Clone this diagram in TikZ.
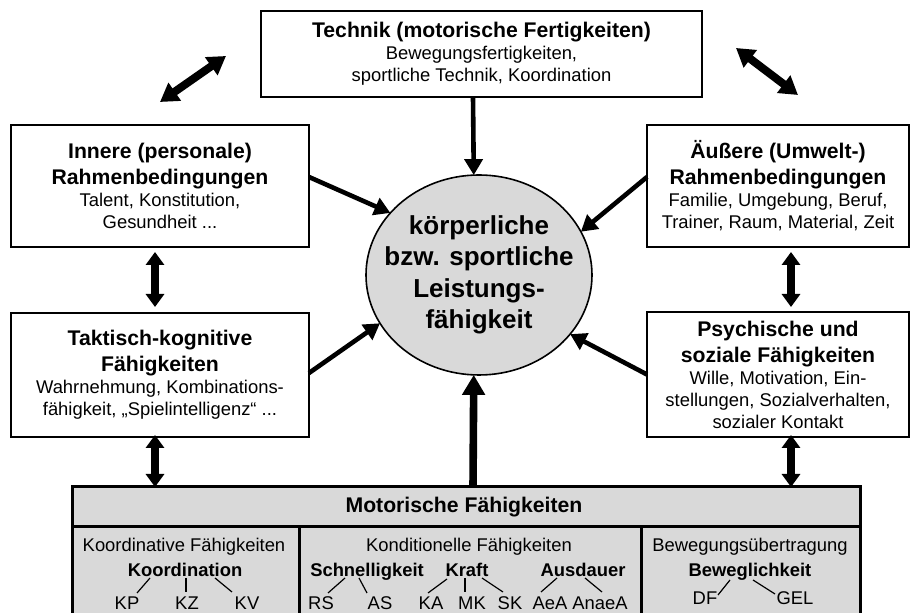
\documentclass[tikz,border=0pt]{standalone}
\usepackage{fontspec}
\setmainfont{Liberation Sans}
\usetikzlibrary{shapes.geometric,arrows.meta,calc}

\definecolor{panelgray}{RGB}{217,217,217}
\newcommand\hdfont{\fontsize{10.6}{13}\selectfont\bfseries}
\newcommand\bdfont{\fontsize{9.2}{11}\selectfont}
\newcommand\elfont{\fontsize{13}{15.75}\selectfont\bfseries}

\begin{document}
\begin{tikzpicture}[x=0.5pt,y=-0.5pt,
  box/.style={draw=black, line width=0.8pt, fill=white, inner sep=0pt,
    outer sep=0pt, align=center, font=\bdfont},
  arr/.style={line width=2.3pt, -{Triangle[length=8pt,width=9pt]}},
  bigarr/.style={line width=3.8pt, -{Triangle[length=10pt,width=11pt]}},
  dbl/.style={line width=4pt,
    {Triangle[length=6.5pt,width=9pt]}-{Triangle[length=6.5pt,width=9pt]}},
  ddiag/.style={line width=4pt,
    {Triangle[length=9pt,width=10.5pt]}-{Triangle[length=9pt,width=10.5pt]}},
  divider/.style={line width=1.5pt},
  lbl/.style={font=\bdfont, inner sep=0pt, anchor=base},
  blbl/.style={font=\bdfont\bfseries, inner sep=0pt, anchor=base},
  twig/.style={line width=0.6pt},
]
\useasboundingbox (0,0) rectangle (911,613);
\begin{scope}
\clip (0,0) rectangle (911,613);

% central ellipse
\node[draw, ellipse, fill=panelgray, line width=0.8pt, minimum width=113pt,
  minimum height=100pt, inner sep=0pt, outer sep=0pt] (perf) at (479,275) {};
\node[font=\elfont, align=center] (perftxt) at (perf.center)
  {körperliche\\bzw. sportliche\\Leistungs-\\fähigkeit};

% surrounding factor boxes
\node[box, minimum width=220.5pt, minimum height=43pt] (tech) at (481.5,54)
  {{\hdfont Technik (motorische Fertigkeiten)}\\Bewegungsfertigkeiten,\\
   sportliche Technik, Koordination};
\node[box, minimum width=149pt, minimum height=61pt] (inn) at (160,186)
  {{\hdfont Innere (personale)}\\[2pt]{\hdfont Rahmenbedingungen}\\
   Talent, Konstitution,\\Gesundheit ...};
\node[box, minimum width=131pt, minimum height=61pt] (aus) at (778,186)
  {{\hdfont Äußere (Umwelt-)}\\[2pt]{\hdfont Rahmenbedingungen}\\
   Familie, Umgebung, Beruf,\\Trainer, Raum, Material, Zeit};
\node[box, minimum width=149pt, minimum height=62pt] (takt) at (160,375)
  {{\hdfont Taktisch-kognitive}\\[2pt]{\hdfont Fähigkeiten}\\
   Wahrnehmung, Kombinations-\\fähigkeit, „Spielintelligenz“ ...};
\node[box, minimum width=131pt, minimum height=62.5pt] (psy) at (778,374.5)
  {{\hdfont Psychische und}\\[2pt]{\hdfont soziale Fähigkeiten}\\
   Wille, Motivation, Ein-\\stellungen, Sozialverhalten,\\sozialer Kontakt};

% motor abilities panel
\node[draw, fill=panelgray, line width=1.5pt, inner sep=0pt, outer sep=0pt,
  minimum width=394pt, minimum height=69pt] (mot) at (466,556) {};
\draw[divider] ($(mot.north west)+(0,40)$) -- ($(mot.north east)+(0,40)$);
\draw[divider] ($(mot.north west)+(227,40)$) -- ($(mot.south west)+(227,0)$);
\draw[divider] ($(mot.north west)+(569,40)$) -- ($(mot.south west)+(569,0)$);
\node[font=\hdfont, inner sep=0pt, anchor=base] (mothd) at (464,513)
  {Motorische Fähigkeiten};

\node[lbl] (koT) at (184,552) {Koordinative Fähigkeiten};
\node[lbl] (konT) at (469,552) {Konditionelle Fähigkeiten};
\node[lbl] (bewT) at (750,552) {Bewegungsübertragung};

\node[blbl] (koord) at (185,577) {Koordination};
\node[blbl] (schn) at (367,577) {Schnelligkeit};
\node[blbl] (kraft) at (467,577) {Kraft};
\node[blbl] (ausd) at (583,577) {Ausdauer};
\node[blbl] (bewg) at (750,577) {Beweglichkeit};

\node[lbl] (kp) at (127,610) {KP};
\node[lbl] (kz) at (187,610) {KZ};
\node[lbl] (kv) at (247,610) {KV};
\node[lbl] (rs) at (321,610) {RS};
\node[lbl] (as) at (380,610) {AS};
\node[lbl] (ka) at (431,610) {KA};
\node[lbl] (mk) at (472,610) {MK};
\node[lbl] (sk) at (510,610) {SK};
\node[lbl] (aea) at (550,610) {AeA};
\node[lbl] (anaea) at (600,610) {AnaeA};
\node[lbl] (df) at (705,605) {DF};
\node[lbl] (gel) at (795,605) {GEL};

% sub-ability branches
\draw[twig] ($(koord.base)+(-35,1)$) -- ($(kp.base)+(10,-17)$);
\draw[twig] ($(koord.base)+(1,1)$) -- ($(kz.base)+(-1,-18)$);
\draw[twig] ($(koord.base)+(30,1)$) -- ($(kv.base)+(-15,-18)$);
\draw[twig] ($(schn.base)+(-22,1)$) -- ($(rs.base)+(7,-17)$);
\draw[twig] ($(schn.base)+(-8,1)$) -- ($(as.base)+(-13,-17)$);
\draw[twig] ($(kraft.base)+(-20,2)$) -- ($(ka.base)+(-3,-17)$);
\draw[twig] ($(kraft.base)+(-2,1)$) -- ($(mk.base)+(-7,-18)$);
\draw[twig] ($(kraft.base)+(15,1)$) -- ($(sk.base)+(-7,-18)$);
\draw[twig] ($(ausd.base)+(-26,1)$) -- ($(aea.base)+(-9,-18)$);
\draw[twig] ($(ausd.base)+(2,1)$) -- ($(anaea.base)+(2,-18)$);
\draw[twig] ($(bewg.base)+(-20,3)$) -- ($(df.base)+(13,-10)$);
\draw[twig] ($(bewg.base)+(3,3)$) -- ($(gel.base)+(-20,-11)$);

% influences on performance
\draw[arr] ($(tech.south)+(-8.5,0)$) -- (perf.93);
\draw[arr] ($(inn.east)+(0,-9)$) -- (perf.145);
\draw[arr] ($(aus.west)+(0,-9)$) -- (perf.23);
\draw[arr] ($(takt.east)+(0,-2)$) -- (perf.206);
\draw[arr] (psy.west) -- (perf.327);
\draw[bigarr] ($(mot.north)+(7,0)$) -- (perf.267);

% mutual relations
\draw[dbl] ($(inn.south)+(-5,5)$) -- ($(takt.north)+(-5,-6)$);
\draw[dbl] ($(takt.south)+(-5,-2)$) coordinate (d2a) -- (d2a |- mot.north);
\draw[dbl] ($(aus.south)+(13,5)$) -- ($(psy.north)+(13,-5)$);
\draw[dbl] ($(psy.south)+(13,-2)$) coordinate (d4a) -- (d4a |- mot.north);

\coordinate (tl1) at (160,102);
\coordinate (tl2) at (226,56);
\coordinate (tr1) at (736,48);
\coordinate (tr2) at (798,95);
\draw[ddiag] (tl1) -- (tl2);
\draw[ddiag] (tr1) -- (tr2);
\end{scope}
\end{tikzpicture}
\end{document}
